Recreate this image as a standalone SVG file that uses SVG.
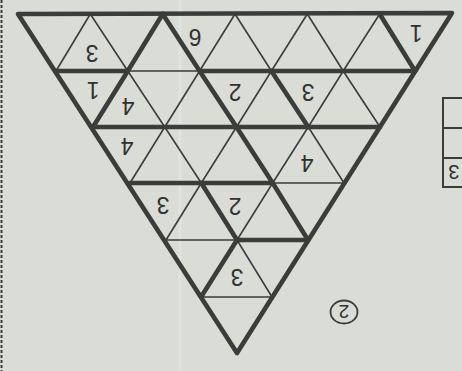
<svg xmlns="http://www.w3.org/2000/svg" width="462" height="371" viewBox="0 0 462 371">
<style>
.thin{fill:none;stroke:#3a3d3a;stroke-width:1.6;stroke-linecap:round;stroke-linejoin:round}
.thick{fill:none;stroke:#3a3d3a;stroke-width:4.6;stroke-linecap:round;stroke-linejoin:round}
.d{font-family:"Liberation Sans",Arial,sans-serif;font-size:23px;fill:#2f322f;text-anchor:middle}
</style>
<rect width="462" height="371" fill="#d9ddd6"/>
<line x1="180" y1="0" x2="180" y2="371" stroke="#e6e9e3" stroke-width="3" opacity="0.6"/>
<line x1="1.5" y1="0" x2="1.5" y2="371" stroke="#3a3d3a" stroke-width="2" stroke-dasharray="3 2"/>
<g id="thin-grid" class="thin">
<path d="M56 71H415M93 127H380M130 183H344M166 240H308M201 297H272"/>
<path d="M90.3 14L56 71M235 14L199.6 71L164.75 127L130 183M307.3 14L271.4 71L236.5 127L201.3 183L166 240M379.7 14L343.2 71L308.25 127L272.7 183L237 240L201 297"/>
<path d="M90.3 14L127.8 71L164.75 127L201.3 183L237 240L272 297M235 14L271.4 71L308.25 127L344 183M307.3 14L343.2 71L380 127"/>
</g>
<g id="thick-grid" class="thick">
<polygon points="18,14 452,13 237,353"/>
<path d="M56 71H127.8M199.6 71H415M93 127H380M130 183H272.7M237 240H308"/>
<path d="M162.7 14L127.8 71L93 127M237 240L201 297"/>
<path d="M162.7 14L199.6 71L236.5 127L272.7 183L308 240M271.4 71L308.25 127M379.7 14L415 71M201.3 183L237 240"/>
</g>
<g id="digits" class="d">
<text transform="translate(92,53) rotate(180)" dy="8">3</text>
<text transform="translate(195,37) rotate(180)" dy="8">6</text>
<text transform="translate(416,33) rotate(180)" dy="8">1</text>
<text transform="translate(93,90) rotate(180)" dy="8">1</text>
<text transform="translate(128,106) rotate(180)" dy="8">4</text>
<text transform="translate(235,92) rotate(180)" dy="8">2</text>
<text transform="translate(308,92) rotate(180)" dy="8">3</text>
<text transform="translate(127,146) rotate(180)" dy="8">4</text>
<text transform="translate(307,163) rotate(180)" dy="8">4</text>
<text transform="translate(163,205) rotate(180)" dy="8">3</text>
<text transform="translate(235,206) rotate(180)" dy="8">2</text>
<text transform="translate(237,277) rotate(180)" dy="8">3</text>
</g>
<g id="circled-label">
<ellipse cx="344" cy="312" rx="13.5" ry="11.5" fill="none" stroke="#3a3d3a" stroke-width="1.8"/>
<text class="d" style="font-size:19px" transform="translate(344,312) rotate(180)" dy="7">2</text>
</g>
<g id="side-table">
<path d="M465 98H443V187H465M443 128H465M443 158H465" fill="none" stroke="#3a3d3a" stroke-width="2"/>
<text class="d" style="font-size:20px" transform="translate(454,172) rotate(180)" dy="7">3</text>
</g>
</svg>
